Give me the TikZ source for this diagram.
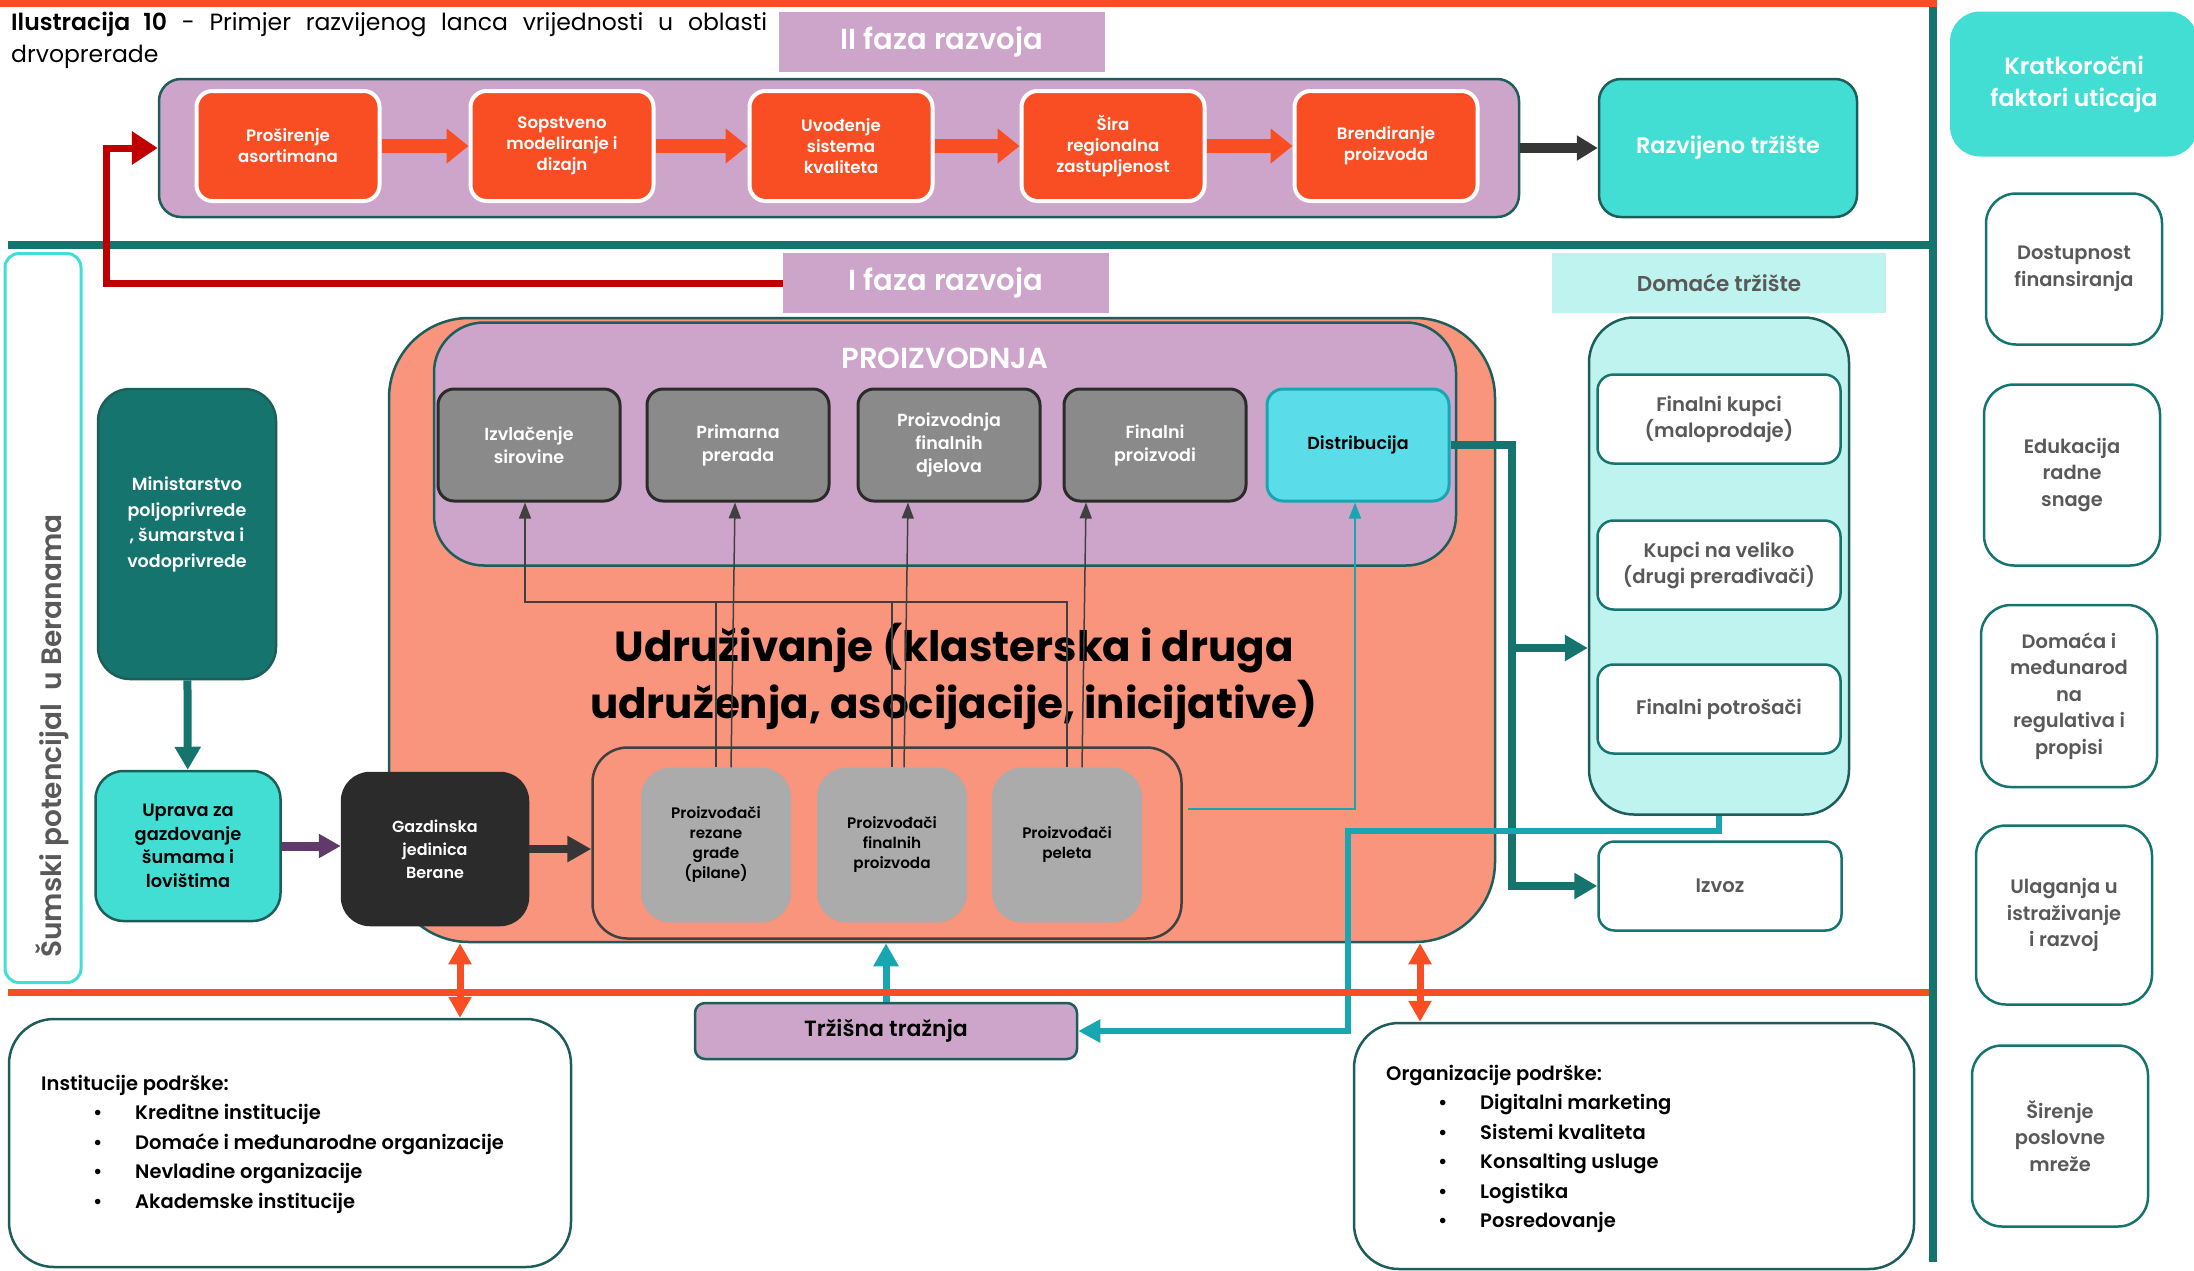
\documentclass[tikz,border=0pt]{standalone}
\usepackage{fontspec}
\setmainfont{Poppins}[BoldFont={* SemiBold}]
\newfontfamily\heavyfont{Poppins}[UprightFont={* Bold}]
\usetikzlibrary{arrows.meta}

\definecolor{orng}{HTML}{F94E24}
\definecolor{lav}{HTML}{CDA5CB}
\definecolor{tealdk}{HTML}{15756E}
\definecolor{edgeln}{HTML}{1D5E5A}
\definecolor{turq}{HTML}{42DED4}
\definecolor{salmon}{HTML}{F9947D}
\definecolor{stepgry}{HTML}{8A8A8A}
\definecolor{makergry}{HTML}{ABABAB}
\definecolor{drk}{HTML}{2B2B2B}
\definecolor{cyanbx}{HTML}{5ADDE8}
\definecolor{cyanln}{HTML}{18A6B1}
\definecolor{dred}{HTML}{C00000}
\definecolor{pale}{HTML}{BFF3EF}
\definecolor{txtg}{HTML}{595959}
\definecolor{purp}{HTML}{5F3A6B}
\definecolor{linegry}{HTML}{404040}

\begin{document}
\begin{tikzpicture}[x=1pt,y=-1pt,
    every node/.style={inner sep=0pt,align=center},
    stage/.style={fill=orng,draw=white,line width=4pt,rounded corners=16pt,
      minimum width=183pt,minimum height=110pt,text=white,
      font=\fontsize{16.6}{21}\selectfont\bfseries},
    tag/.style={fill=lav,minimum width=326pt,minimum height=60pt,text=white,
      font=\fontsize{29}{32}\selectfont\bfseries},
    prodstep/.style={fill=stepgry,draw=drk,line width=3pt,rounded corners=16pt,
      minimum width=182pt,minimum height=112pt,text=white,
      font=\fontsize{17.5}{23}\selectfont\bfseries},
    maker/.style={fill=makergry,rounded corners=30pt,minimum width=150pt,
      minimum height=155pt,font=\fontsize{15.2}{20}\selectfont\bfseries},
    buyer/.style={fill=white,draw=tealdk,line width=2.5pt,rounded corners=16pt,
      minimum width=243pt,minimum height=89pt,text=txtg,
      font=\fontsize{19.6}{26}\selectfont\bfseries},
    factor/.style={fill=white,draw=tealdk,line width=2.5pt,rounded corners=30pt,
      minimum width=176pt,text=txtg,font=\fontsize{19.4}{26.5}\selectfont\bfseries},
    support/.style={fill=white,draw=edgeln,line width=2.5pt,rounded corners=45pt},
    roundbox/.style={draw=edgeln,line width=2.5pt,rounded corners=28pt},
    thinarrow/.style={draw=linegry,line width=1.5pt,-{Triangle[length=16pt,width=12pt]}},
    orangearrow/.style={draw=orng,line width=14pt,-{Triangle[length=22pt,width=34pt]}},
    tealarrow/.style={draw=tealdk,line width=8pt,-{Triangle[length=23pt,width=25pt]}},
    bothways/.style={draw=orng,line width=7pt,
      {Triangle[length=21pt,width=22pt]}-{Triangle[length=21pt,width=22pt]}}]

\useasboundingbox (0,0) rectangle (2194,1270);

% frame lines
\draw[draw=tealdk,line width=8pt] (8,245) -- (1933,245);
\draw[draw=tealdk,line width=8pt] (1933,6) -- (1933,1262);
\draw[draw=orng,line width=7pt] (0,3) -- (1937,3);

\node[anchor=west,text width=756pt,align=justify,font=\fontsize{23.5}{32}\selectfont]
  (title) at (11,40) {\textbf{Ilustracija 10} - Primjer razvijenog lanca vrijednosti u oblasti\linebreak drvoprerade};

% II faza
\node[tag] (faza2) at (942,42) {II faza razvoja};
\node[fill=lav,draw=edgeln,line width=2.5pt,rounded corners=22pt,
  minimum width=1360pt,minimum height=138pt] (phase2) at (839,148) {};
\node[stage] (s1) at (288,146) {Proširenje\\asortimana};
\node[stage] (s2) at (562,146) {Sopstveno\\modeliranje i\\dizajn};
\node[stage] (s3) at (841,146) {Uvođenje\\sistema\\kvaliteta};
\node[stage] (s4) at (1113,146) {Šira\\regionalna\\zastupljenost};
\node[stage] (s5) at (1386,146) {Brendiranje\\proizvoda};
\node[roundbox,fill=turq,rounded corners=22pt,minimum width=258pt,minimum height=138pt,
  text=white,font=\fontsize{22.4}{26}\selectfont\bfseries] (razv) at (1728,148) {Razvijeno tržište};

\draw[orangearrow] (s1) -- (s2);
\draw[orangearrow] (s2) -- (s3);
\draw[orangearrow] (s3) -- (s4);
\draw[orangearrow] (s4) -- (s5);
\draw[draw=drk!95,line width=10pt,-{Triangle[length=21pt,width=24pt]}] (phase2) -- (razv);

% kratkorocni faktori
\node[fill=turq,rounded corners=30pt,minimum width=248pt,minimum height=145pt,
  text=white,font=\fontsize{23.5}{32}\selectfont\bfseries] (kratko) at (2074,84) {Kratkoročni\\faktori uticaja};
\node[factor,minimum height=151pt] (fin) at (2074,269) {Dostupnost\\finansiranja};
\node[factor,minimum height=181pt] (edu) at (2072,475) {Edukacija\\radne\\snage};
\node[factor,minimum height=182pt] (reg) at (2069,696) {Domaća i\\međunarod\\na\\regulativa i\\propisi};
\node[factor,minimum height=179pt] (ula) at (2064,915) {Ulaganja u\\istraživanje\\i razvoj};
\node[factor,minimum height=181pt] (mre) at (2060,1136) {Širenje\\poslovne\\mreže};

% I faza
\node[tag] (faza1) at (946,283) {I faza razvoja};
\coordinate (redc) at (106,0);
\draw[draw=dred,line width=7pt,-{Triangle[length=26pt,width=32pt]}]
  (faza1.west) -- (faza1.west -| redc) |- (phase2.west);

\node[draw=turq,line width=3pt,rounded corners=14pt,minimum width=76pt,minimum height=729pt] (sum) at (43,618) {};
\node[rotate=90,text=txtg,font=\fontsize{28}{30}\selectfont\bfseries] (sumtxt) at (52,736) {Šumski potencijal\ \ u Beranama};

\node[roundbox,fill=tealdk,rounded corners=32pt,minimum width=178pt,minimum height=290pt,
  text=white,font=\fontsize{17.5}{25.5}\selectfont\bfseries] (min) at (187,534)
  {Ministarstvo\\poljoprivrede\\, šumarstva i\\vodoprivrede\\[-2pt]};
\node[roundbox,fill=turq,minimum width=185pt,minimum height=150pt,
  font=\fontsize{17.8}{23.5}\selectfont\bfseries] (upr) at (188,846)
  {Uprava za\\gazdovanje\\šumama i\\lovištima};

% udruzivanje
\node[fill=salmon,draw=edgeln,line width=2.5pt,rounded corners=80pt,
  minimum width=1106pt,minimum height=624pt] (assoc) at (942,630) {};
\node[fill=lav,draw=edgeln,line width=2.5pt,rounded corners=50pt,
  minimum width=1022pt,minimum height=243pt] (prod) at (945,444) {};
\node[text=white,font=\fontsize{29}{32}\selectfont\bfseries] (prodtxt) at (945,358) {PROIZVODNJA};
\node[prodstep] (izvl) at (529,445) {Izvlačenje\\sirovine};
\node[prodstep] (prim) at (738,445) {Primarna\\prerada};
\node[prodstep] (djel) at (949,445) {Proizvodnja\\finalnih\\djelova};
\node[prodstep] (finp) at (1155,445) {Finalni\\proizvodi};
\node[prodstep,fill=cyanbx,draw=cyanln,text=black] (distr) at (1358,445) {Distribucija};

\node[font=\fontsize{42}{57}\selectfont\heavyfont] (assoctxt) at (954,676)
  {Udruživanje (klasterska i druga\\udruženja, asocijacije, inicijative)};

\node[fill=salmon,draw=linegry,line width=2.5pt,rounded corners=35pt,
  minimum width=589pt,minimum height=191pt] (makers) at (887,843) {};
\node[maker] (m1) at (716,845) {Proizvođači\\rezane\\građe\\(pilane)};
\node[maker] (m2) at (892,845) {Proizvođači\\finalnih\\proizvoda};
\node[maker] (m3) at (1067,845) {Proizvođači\\peleta};

\node[roundbox,fill=drk,draw=drk,minimum width=186pt,minimum height=152pt,
  text=white,font=\fontsize{16}{23}\selectfont\bfseries] (gaz) at (435,849)
  {Gazdinska\\jedinica\\Berane};

% veze proizvodjaca
\coordinate (bus) at (0,602);
\draw[thinarrow] (m1.north) -- (m1.north |- bus) -| ([xshift=-4pt]izvl.south);
\draw[draw=linegry,line width=1.5pt] (m2.north) -- (m2.north |- bus);
\draw[draw=linegry,line width=1.5pt] (m3.north) -- (m3.north |- bus) -- (m1.north |- bus);
\draw[thinarrow] ([xshift=15pt]m1.north) -- ([xshift=-3pt]prim.south);
\draw[thinarrow] ([xshift=12pt]m2.north) -- ([xshift=-41pt]djel.south);
\draw[thinarrow] ([xshift=15pt]m3.north) -- ([xshift=-69pt]finp.south);
\coordinate (cyfoot) at (1188,809);
\draw[draw=cyanln,line width=1.5pt,-{Triangle[length=16pt,width=12pt]}] (cyfoot) -| ([xshift=-3pt]distr.south);

\draw[tealarrow] (min) -- (upr);
\draw[draw=purp,line width=9pt,-{Triangle[length=22pt,width=23pt]}] (upr.east) -- (upr.east -| gaz.west);
\draw[draw=drk!95,line width=8pt,-{Triangle[length=24pt,width=25pt]}] (gaz.east) -- (gaz.east -| makers.west);

% trziste
\node[fill=pale,minimum width=334pt,minimum height=60pt,text=txtg,
  font=\fontsize{21.5}{24}\selectfont\bfseries] (domlbl) at (1719,283) {Domaće tržište};
\node[fill=pale,draw=edgeln,line width=2.5pt,rounded corners=45pt,
  minimum width=260pt,minimum height=497pt] (dom) at (1719,566) {};
\node[buyer] (b1) at (1719,419) {Finalni kupci\\(maloprodaje)};
\node[buyer] (b2) at (1719,565) {Kupci na veliko\\(drugi prerađivači)};
\node[buyer] (b3) at (1719,709) {Finalni potrošači};
\node[buyer] (izvoz) at (1720,886) {Izvoz};

\coordinate (tbus) at (1512,0);
\coordinate (tsplit) at (1512,648);
\draw[tealarrow] (distr.east) -| (izvoz.west -| tbus) -- (izvoz.west);
\draw[tealarrow] (tsplit) -- (tsplit -| dom.west);

\node[roundbox,fill=lav,rounded corners=10pt,minimum width=382pt,minimum height=56pt,
  font=\fontsize{22}{24}\selectfont\bfseries] (traz) at (886,1031) {Tržišna tražnja};
\coordinate (cb) at (1348,831);
\draw[draw=cyanln,line width=6pt,-{Triangle[length=22pt,width=22pt]}] (dom.south) |- (cb) |- (traz.east);
\draw[draw=cyanln,line width=7pt,-{Triangle[length=23pt,width=24pt]}] (traz.north) -- (traz.north |- assoc.south);

% podrska
\draw[draw=orng,line width=7pt] (8,992) -- (1929,992);
\node[support,minimum width=562pt,minimum height=248pt] (inst) at (290,1143) {};
\node[support,minimum width=560pt,minimum height=246pt] (org) at (1634,1146) {};
\draw[bothways] ([xshift=170pt]inst.north) -- ([xshift=170pt]inst.north |- assoc.south);
\draw[bothways] ([xshift=-214pt]org.north) -- ([xshift=-214pt]org.north |- assoc.south);

\node[anchor=west,align=left,font=\fontsize{19.5}{29.5}\selectfont\bfseries] (insttxt) at (41,1144)
  {Institucije podrške:\\
   \hspace*{52pt}\makebox[42pt][l]{\textbullet}Kreditne institucije\\
   \hspace*{52pt}\makebox[42pt][l]{\textbullet}Domaće i međunarodne organizacije\\
   \hspace*{52pt}\makebox[42pt][l]{\textbullet}Nevladine organizacije\\
   \hspace*{52pt}\makebox[42pt][l]{\textbullet}Akademske institucije};
\node[anchor=west,align=left,font=\fontsize{19.5}{29.5}\selectfont\bfseries] (orgtxt) at (1386,1149)
  {Organizacije podrške:\\
   \hspace*{52pt}\makebox[42pt][l]{\textbullet}Digitalni marketing\\
   \hspace*{52pt}\makebox[42pt][l]{\textbullet}Sistemi kvaliteta\\
   \hspace*{52pt}\makebox[42pt][l]{\textbullet}Konsalting usluge\\
   \hspace*{52pt}\makebox[42pt][l]{\textbullet}Logistika\\
   \hspace*{52pt}\makebox[42pt][l]{\textbullet}Posredovanje};

\end{tikzpicture}
\end{document}
